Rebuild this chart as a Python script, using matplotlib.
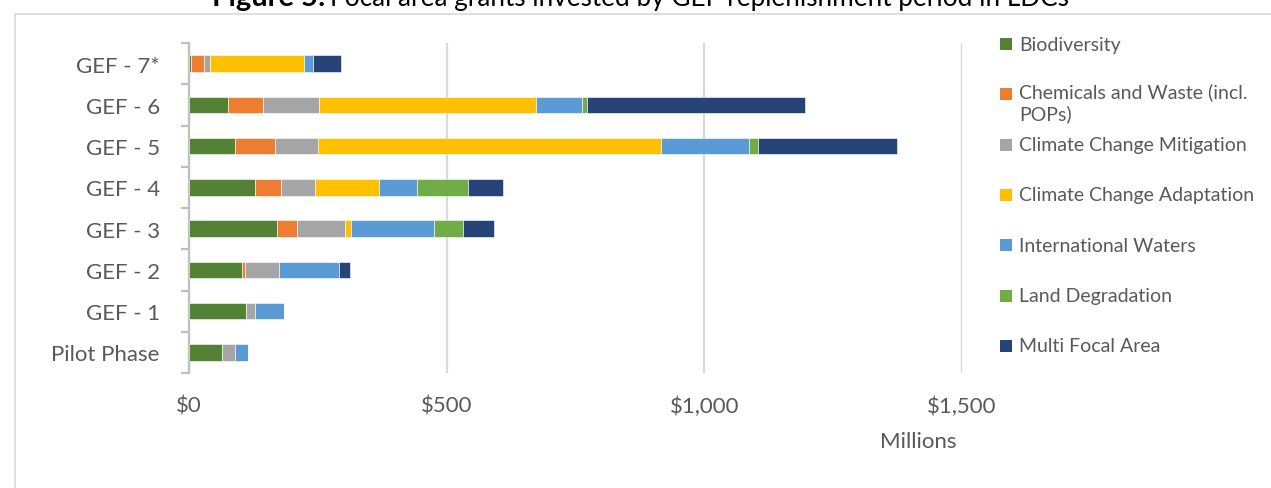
import numpy as np
import matplotlib.pyplot as plt
from matplotlib.patches import Rectangle
from matplotlib.ticker import FuncFormatter

# data (US$ millions)
periods = ['Pilot Phase', 'GEF - 1', 'GEF - 2', 'GEF - 3', 'GEF - 4', 'GEF - 5', 'GEF - 6', 'GEF - 7*']
biodiversity = [65, 110, 102, 171, 129, 90, 76, 4]
chemicals = [0, 0, 7, 39, 49, 76, 67, 25]
cc_mitigation = [24, 19, 66, 92, 67, 85, 109, 12]
cc_adaptation = [0, 0, 0, 12, 123, 664, 422, 182]
intl_waters = [26, 56, 117, 161, 75, 171, 89, 17]
land_degradation = [0, 0, 0, 57, 99, 19, 10, 0]
multi_focal = [0, 0, 21, 59, 67, 268, 423, 55]

series_names = ['Biodiversity', 'Chemicals and Waste (incl.\nPOPs)', 'Climate Change Mitigation',
                'Climate Change Adaptation', 'International Waters', 'Land Degradation', 'Multi Focal Area']
series = [biodiversity, chemicals, cc_mitigation, cc_adaptation, intl_waters, land_degradation, multi_focal]
colors = ['#548235', '#ED7D31', '#A5A5A5', '#FFC000', '#5B9BD5', '#70AD47', '#264478']

plt.rcParams['font.family'] = ['Lato', 'DejaVu Sans']
W, H = 1271, 489
fig = plt.figure(figsize=(W / 100, H / 100), dpi=100)

# outer chart frame
fig.patches.append(Rectangle((15 / W, -0.1), 1.2, (H - 15) / H + 0.1, transform=fig.transFigure,
                             fill=False, edgecolor='#d9d9d9', linewidth=1.2))

ax = fig.add_axes([189 / W, 1 - 374 / H, (962 - 189) / W, (374 - 44) / H])

y = np.arange(len(periods))
left = np.zeros(len(periods))
for vals, col in zip(series, colors):
    ax.barh(y, vals, left=left, height=0.4, color=col, edgecolor='white', linewidth=0.4, zorder=3)
    left += np.array(vals)

ax.set_xlim(0, 1500)
ax.set_ylim(-0.5, len(periods) - 0.5)
ax.set_xticks([0, 500, 1000, 1500])
ax.xaxis.set_major_formatter(FuncFormatter(lambda v, p: '${:,.0f}'.format(v)))
ax.set_yticks(y)
ax.set_yticklabels(periods)
ax.set_yticks(np.arange(-0.5, len(periods)), minor=True)
ax.grid(axis='x', color='#d9d9d9', linewidth=1.6, zorder=0)

for s in ['top', 'right', 'bottom']:
    ax.spines[s].set_visible(False)
ax.spines['left'].set_color('#bfbfbf')
ax.spines['left'].set_linewidth(1.6)

ax.tick_params(axis='x', length=0, pad=16, labelsize=16, labelcolor='#595959')
ax.tick_params(axis='y', which='major', length=0, pad=21, labelsize=16, labelcolor='#595959')
ax.tick_params(axis='y', which='minor', length=6, width=1.6, color='#bfbfbf', direction='out')

fig.text(918 / W, 1 - 442 / H, 'Millions', ha='center', va='center', fontsize=16, color='#595959')

# legend
for i, (name, col) in enumerate(zip(series_names, colors)):
    yc = 45 + 50.3 * i
    fig.patches.append(Rectangle((1000 / W, 1 - (yc + 6) / H), 12 / W, 12 / H,
                                 transform=fig.transFigure, facecolor=col, edgecolor='none'))
    if '\n' in name:
        fig.text(1019 / W, 1 - (yc - 12) / H, name, ha='left', va='top', fontsize=14,
                 color='#595959', linespacing=1.3)
    else:
        fig.text(1019 / W, 1 - yc / H, name, ha='left', va='center', fontsize=14, color='#595959')

# title (cut off at the top of the image)
fig.text(325 / W, 1 - 6 / H, 'Figure 5:', ha='right', va='baseline', fontsize=21, fontweight='bold',
         color='black')
fig.text(330 / W, 1 - 6 / H, 'Focal area grants invested by GEF replenishment period in LDCs',
         ha='left', va='baseline', fontsize=18.8, color='black')

fig.savefig('out.png', dpi=100)
